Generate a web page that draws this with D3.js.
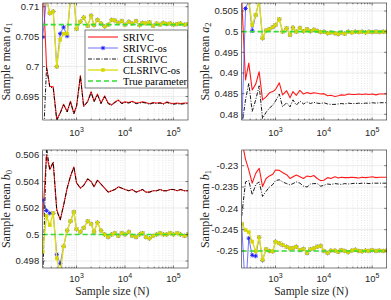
<!DOCTYPE html>
<html><head><meta charset="utf-8">
<script src="https://cdn.jsdelivr.net/npm/d3@7"></script>
<style>body{margin:0;background:#fff}svg{display:block}</style>
</head><body><svg id="c" width="391" height="300"></svg>
<script>
// ---------------- DATA ----------------
const N = [200,240,280,330,390,460,540,640,750,880,1000,1200,1400,1700,2000,2300,2700,3200,3800,4500,5300,6200,7300,8600,10000,12000,14000,17000,20000,23000,27000,32000,38000,45000,53000,62000,73000,86000,100000,120000,140000,170000,200000];

const seriesNames = ["SRIVC","SRIVC-os","CLSRIVC","CLSRIVC-os","True parameter"];

// a1
const a1_SRIVC = [0.7150,0.7000,0.6967,0.6966,0.6912,0.6923,0.6937,0.6925,0.6942,0.6922,0.6934,0.6985,0.6934,0.6942,0.6958,0.6942,0.6954,0.6939,0.6951,0.6939,0.6936,0.6941,0.6944,0.6939,0.6941,0.6940,0.6942,0.6939,0.6940,0.6941,0.6940,0.6938,0.6940,0.6939,0.6940,0.6938,0.6941,0.6939,0.6938,0.6939,0.6938,0.6939,0.6939];
const a1_CLSRIVC = [0.6850,0.6998,0.6966,0.6964,0.6910,0.6922,0.6936,0.6924,0.6941,0.6921,0.6933,0.6984,0.6933,0.6941,0.6957,0.6941,0.6953,0.6938,0.6950,0.6938,0.6935,0.6940,0.6943,0.6938,0.6940,0.6939,0.6941,0.6938,0.6939,0.6940,0.6939,0.6937,0.6939,0.6938,0.6939,0.6937,0.6940,0.6938,0.6937,0.6938,0.6937,0.6938,0.6938];
const a1_SRIVC_os = [0.7049,0.7115,0.7089,0.7092,0.7000,0.7055,0.7066,0.7051,0.7115,0.7115,0.7063,0.7075,0.7082,0.7068,0.7085,0.7069,0.7078,0.7072,0.7067,0.7070,0.7078,0.7077,0.7073,0.7076,0.7070,0.7075,0.7072,0.7076,0.7069,0.7073,0.7072,0.7074,0.7068,0.7072,0.7070,0.7073,0.7071,0.7072,0.7070,0.7071,0.7072,0.7070,0.7071];
const a1_CLSRIVC_os = [0.7115,0.7112,0.7089,0.7092,0.7000,0.7045,0.7055,0.7055,0.7115,0.7115,0.7063,0.7075,0.7082,0.7068,0.7085,0.7069,0.7078,0.7072,0.7067,0.7070,0.7078,0.7077,0.7073,0.7076,0.7070,0.7075,0.7072,0.7076,0.7069,0.7073,0.7072,0.7074,0.7068,0.7072,0.7070,0.7073,0.7071,0.7072,0.7070,0.7071,0.7072,0.7070,0.7071];
const a1_true = 0.707;

// a2
const a2_SRIVC = [0.5080,0.4883,0.4924,0.4859,0.4873,0.4903,0.4835,0.4842,0.4852,0.4855,0.4860,0.4876,0.4847,0.4857,0.4840,0.4855,0.4846,0.4858,0.4849,0.4853,0.4850,0.4852,0.4851,0.4849,0.4850,0.4845,0.4846,0.4843,0.4845,0.4847,0.4846,0.4849,0.4848,0.4848,0.4849,0.4848,0.4849,0.4848,0.4849,0.4847,0.4849,0.4849,0.4849];
const a2_CLSRIVC = [0.4770,0.4835,0.4875,0.4807,0.4835,0.4869,0.4790,0.4805,0.4815,0.4822,0.4832,0.4849,0.4818,0.4828,0.4818,0.4835,0.4822,0.4832,0.4825,0.4830,0.4826,0.4829,0.4827,0.4826,0.4828,0.4825,0.4824,0.4824,0.4825,0.4826,0.4825,0.4827,0.4826,0.4826,0.4827,0.4826,0.4827,0.4827,0.4828,0.4827,0.4828,0.4828,0.4828];
const a2_SRIVC_os = [0.4760,0.5056,0.5075,0.5002,0.5040,0.5075,0.4984,0.5003,0.5006,0.5011,0.5016,0.5030,0.5000,0.5008,0.4992,0.5010,0.5000,0.5009,0.5001,0.5006,0.5001,0.5005,0.5002,0.4999,0.5000,0.4996,0.4998,0.4996,0.4994,0.4998,0.4995,0.5000,0.4998,0.5000,0.4999,0.5000,0.4998,0.5000,0.4999,0.5000,0.4999,0.5000,0.5000];
const a2_CLSRIVC_os = [0.5080,0.5078,0.5075,0.5016,0.5040,0.5075,0.4984,0.5003,0.5006,0.5011,0.5016,0.5030,0.5000,0.5008,0.4992,0.5010,0.5000,0.5009,0.5001,0.5006,0.5001,0.5005,0.5002,0.4999,0.5000,0.4996,0.4998,0.4996,0.4994,0.4998,0.4995,0.5000,0.4998,0.5000,0.4999,0.5000,0.4998,0.5000,0.4999,0.5000,0.4999,0.5000,0.5000];
const a2_true = 0.5;

// b0
const b0_SRIVC = [0.5013,0.5060,0.5049,0.5054,0.5019,0.5011,0.5022,0.5035,0.5044,0.5051,0.5039,0.5035,0.5037,0.5042,0.5040,0.5036,0.5041,0.5038,0.5035,0.5032,0.5033,0.5034,0.5036,0.5035,0.5034,0.5033,0.5034,0.5032,0.5033,0.5034,0.5032,0.5032,0.5033,0.5033,0.5034,0.5033,0.5033,0.5034,0.5034,0.5033,0.5034,0.5033,0.5033];
const b0_CLSRIVC = [0.4965,0.5066,0.5049,0.5055,0.5018,0.5011,0.5022,0.5035,0.5044,0.5051,0.5039,0.5035,0.5037,0.5042,0.5040,0.5036,0.5041,0.5038,0.5035,0.5032,0.5033,0.5034,0.5036,0.5035,0.5034,0.5033,0.5034,0.5032,0.5033,0.5034,0.5032,0.5032,0.5033,0.5033,0.5034,0.5033,0.5033,0.5034,0.5034,0.5033,0.5034,0.5033,0.5033];
const b0_SRIVC_os = [0.5026,0.5018,0.5016,0.5016,0.4985,0.4978,0.4991,0.5003,0.5010,0.5017,0.5004,0.5002,0.5005,0.5010,0.5008,0.5002,0.5009,0.5003,0.5000,0.4998,0.5000,0.5001,0.4999,0.5001,0.5000,0.5002,0.4999,0.4998,0.5000,0.5001,0.4998,0.4997,0.4999,0.5000,0.5001,0.5000,0.5000,0.5001,0.5000,0.5001,0.5000,0.4999,0.5000];
const b0_CLSRIVC_os = [0.4987,0.5014,0.5007,0.5016,0.4982,0.4970,0.4991,0.5003,0.5010,0.5017,0.5004,0.5002,0.5005,0.5010,0.5008,0.5002,0.5009,0.5003,0.5000,0.4998,0.5000,0.5001,0.4999,0.5001,0.5000,0.5002,0.4999,0.4998,0.5000,0.5001,0.4998,0.4997,0.4999,0.5000,0.5001,0.5000,0.5000,0.5001,0.5000,0.5001,0.5000,0.4999,0.5000];
const b0_true = 0.5;

// b1
const b1_SRIVC = [-0.2240,-0.2285,-0.2310,-0.2341,-0.2318,-0.2306,-0.2349,-0.2330,-0.2324,-0.2320,-0.2310,-0.2311,-0.2316,-0.2321,-0.2330,-0.2326,-0.2322,-0.2326,-0.2330,-0.2324,-0.2326,-0.2323,-0.2330,-0.2335,-0.2334,-0.2328,-0.2330,-0.2326,-0.2329,-0.2327,-0.2328,-0.2328,-0.2327,-0.2328,-0.2329,-0.2327,-0.2328,-0.2327,-0.2326,-0.2328,-0.2327,-0.2327,-0.2327];
const b1_CLSRIVC = [-0.2418,-0.2338,-0.2335,-0.2368,-0.2344,-0.2338,-0.2372,-0.2360,-0.2350,-0.2344,-0.2335,-0.2333,-0.2338,-0.2342,-0.2345,-0.2342,-0.2338,-0.2341,-0.2348,-0.2350,-0.2343,-0.2342,-0.2342,-0.2348,-0.2346,-0.2343,-0.2344,-0.2342,-0.2343,-0.2344,-0.2342,-0.2343,-0.2342,-0.2341,-0.2342,-0.2341,-0.2341,-0.2342,-0.2341,-0.2341,-0.2341,-0.2341,-0.2341];
const b1_SRIVC_os = [-0.2437,-0.2600,-0.2470,-0.2510,-0.2512,-0.2468,-0.2522,-0.2496,-0.2500,-0.2501,-0.2478,-0.2482,-0.2486,-0.2490,-0.2494,-0.2493,-0.2490,-0.2498,-0.2495,-0.2505,-0.2496,-0.2494,-0.2490,-0.2488,-0.2500,-0.2505,-0.2499,-0.2499,-0.2502,-0.2498,-0.2500,-0.2503,-0.2499,-0.2497,-0.2500,-0.2501,-0.2499,-0.2500,-0.2498,-0.2500,-0.2499,-0.2500,-0.2499];
const b1_CLSRIVC_os = [-0.2437,-0.2451,-0.2456,-0.2478,-0.2501,-0.2468,-0.2521,-0.2496,-0.2500,-0.2501,-0.2478,-0.2482,-0.2486,-0.2490,-0.2494,-0.2493,-0.2490,-0.2498,-0.2495,-0.2505,-0.2496,-0.2494,-0.2490,-0.2488,-0.2500,-0.2505,-0.2499,-0.2499,-0.2502,-0.2498,-0.2500,-0.2503,-0.2499,-0.2497,-0.2500,-0.2501,-0.2499,-0.2500,-0.2498,-0.2500,-0.2499,-0.2500,-0.2499];
const b1_true = -0.25;

const xTickValues = [1e3,1e4,1e5];
const xTickExp = ["3","4","5"];
const a1_yTicks = [0.695,0.7,0.705,0.71];
const a1_yLabels = ["0.695","0.7","0.705","0.71"];
const a2_yTicks = [0.48,0.485,0.49,0.495,0.5,0.505];
const a2_yLabels = ["0.48","0.485","0.49","0.495","0.5","0.505"];
const b0_yTicks = [0.498,0.5,0.502,0.504,0.506];
const b0_yLabels = ["0.498","0.5","0.502","0.504","0.506"];
const b1_yTicks = [-0.25,-0.245,-0.24,-0.235,-0.23];
const b1_yLabels = ["-0.25","-0.245","-0.24","-0.235","-0.23"];

// ---------------- LAYOUT ----------------
const svg = d3.select("#c");
const axisCol = "#262626";
const sans = "'Liberation Sans', Arial, sans-serif";
const serif = "'Liberation Serif', 'Times New Roman', serif";

const panels = [
  {id:"a1", box:[42.7,188,3,120], yd:[0.69107,0.71062], sym:"a", sub:"1",
   s:[a1_SRIVC,a1_SRIVC_os,a1_CLSRIVC,a1_CLSRIVC_os], t:a1_true, yt:a1_yTicks, yl:a1_yLabels, xlabel:false, legend:true},
  {id:"a2", box:[241.7,386.7,3,120], yd:[0.47862,0.50694], sym:"a", sub:"2",
   s:[a2_SRIVC,a2_SRIVC_os,a2_CLSRIVC,a2_CLSRIVC_os], t:a2_true, yt:a2_yTicks, yl:a2_yLabels, xlabel:false},
  {id:"b0", box:[42.7,188,150,268], yd:[0.49747,0.50638], sym:"b", sub:"0",
   s:[b0_SRIVC,b0_SRIVC_os,b0_CLSRIVC,b0_CLSRIVC_os], t:b0_true, yt:b0_yTicks, yl:b0_yLabels, xlabel:true},
  {id:"b1", box:[241.7,386.7,150,268], yd:[-0.25399,-0.22632], sym:"b", sub:"1",
   s:[b1_SRIVC,b1_SRIVC_os,b1_CLSRIVC,b1_CLSRIVC_os], t:b1_true, yt:b1_yTicks, yl:b1_yLabels, xlabel:true},
];

const styles = [
  {color:"#ff1a1a", w:1.1, dash:null, marker:null},
  {color:"#4d4dff", w:0.8, dash:null, marker:"star", mcolor:"#1a1aff"},
  {color:"#000000", w:0.9, dash:"4,1.5,1,1.5", marker:null},
  {color:"#dede1a", w:1.4, dash:null, marker:"square", mcolor:"#d6d600"},
  {color:"#33dd33", w:1.6, dash:"5,3", marker:null}
];

function drawMarker(g, type, x, y, col){
  if(type==="star"){
    const r=2.2;
    g.append("path").attr("d",`M${x-r},${y}L${x+r},${y}M${x},${y-r}L${x},${y+r}M${x-r*0.7},${y-r*0.7}L${x+r*0.7},${y+r*0.7}M${x-r*0.7},${y+r*0.7}L${x+r*0.7},${y-r*0.7}`)
      .attr("stroke",col).attr("stroke-width",0.9).attr("fill","none");
  } else if(type==="square"){
    g.append("rect").attr("x",x-1.6).attr("y",y-1.6).attr("width",3.2).attr("height",3.2)
      .attr("fill",col).attr("stroke",col).attr("stroke-width",0.4);
  }
}

panels.forEach((p,pi)=>{
  const [x0,x1,y0,y1]=p.box;
  const x = d3.scaleLog().domain([200,200000]).range([x0,x1]);
  const y = d3.scaleLinear().domain(p.yd).range([y1,y0]);
  const g = svg.append("g");
  g.append("rect").attr("x",x0).attr("y",y0).attr("width",x1-x0).attr("height",y1-y0).attr("fill","#fff");

  // minor x grid (dotted)
  const minors=[];
  for(let e=2;e<=5;e++) for(let m=2;m<10;m++){const v=m*Math.pow(10,e); if(v>200&&v<200000) minors.push(v);}
  g.append("g").selectAll("line").data(minors).join("line")
    .attr("x1",d=>x(d)).attr("x2",d=>x(d)).attr("y1",y0).attr("y2",y1)
    .attr("stroke","#d0d0d0").attr("stroke-width",0.5).attr("stroke-dasharray","1,1.5");
  // major grid
  g.append("g").selectAll("line").data(xTickValues).join("line")
    .attr("x1",d=>x(d)).attr("x2",d=>x(d)).attr("y1",y0).attr("y2",y1)
    .attr("stroke","#dfdfdf").attr("stroke-width",0.6);
  g.append("g").selectAll("line").data(p.yt).join("line")
    .attr("x1",x0).attr("x2",x1).attr("y1",d=>y(d)).attr("y2",d=>y(d))
    .attr("stroke","#dfdfdf").attr("stroke-width",0.6);

  // clip
  const cid="clip"+pi;
  svg.append("clipPath").attr("id",cid).append("rect").attr("x",x0).attr("y",y0).attr("width",x1-x0).attr("height",y1-y0);
  const pg = g.append("g").attr("clip-path",`url(#${cid})`);

  const line = d3.line().x((d,i)=>x(N[i])).y(d=>y(d));
  p.s.forEach((arr,si)=>{
    const st=styles[si];
    pg.append("path").attr("d",line(arr)).attr("fill","none").attr("stroke",st.color)
      .attr("stroke-width",st.w).attr("stroke-dasharray",st.dash).attr("stroke-linejoin","round");
    if(st.marker){
      const mg=pg.append("g");
      arr.forEach((v,i)=>drawMarker(mg,st.marker,x(N[i]),y(v),st.mcolor));
    }
  });
  // true parameter
  pg.append("line").attr("x1",x0).attr("x2",x1).attr("y1",y(p.t)).attr("y2",y(p.t))
    .attr("stroke",styles[4].color).attr("stroke-width",styles[4].w).attr("stroke-dasharray",styles[4].dash);

  // box
  g.append("rect").attr("x",x0).attr("y",y0).attr("width",x1-x0).attr("height",y1-y0)
    .attr("fill","none").attr("stroke",axisCol).attr("stroke-width",0.6);

  // ticks (inward)
  const tk=g.append("g").attr("stroke",axisCol).attr("stroke-width",0.6);
  xTickValues.forEach(v=>{
    tk.append("line").attr("x1",x(v)).attr("x2",x(v)).attr("y1",y1).attr("y2",y1-2.5);
    tk.append("line").attr("x1",x(v)).attr("x2",x(v)).attr("y1",y0).attr("y2",y0+2.5);
  });
  minors.forEach(v=>{
    tk.append("line").attr("x1",x(v)).attr("x2",x(v)).attr("y1",y1).attr("y2",y1-1.3);
    tk.append("line").attr("x1",x(v)).attr("x2",x(v)).attr("y1",y0).attr("y2",y0+1.3);
  });
  p.yt.forEach(v=>{
    tk.append("line").attr("x1",x0).attr("x2",x0+2.5).attr("y1",y(v)).attr("y2",y(v));
    tk.append("line").attr("x1",x1).attr("x2",x1-2.5).attr("y1",y(v)).attr("y2",y(v));
  });

  // y tick labels
  p.yt.forEach((v,i)=>{
    g.append("text").attr("x",x0-3.5).attr("y",y(v)).attr("dy","0.35em").attr("text-anchor","end")
      .attr("font-family",sans).attr("font-size",9.5).attr("fill",axisCol).text(p.yl[i]);
  });
  // x tick labels
  const tby = p.xlabel ? y1+14 : y1+16;
  xTickValues.forEach((v,i)=>{
    const t=g.append("text").attr("x",x(v)).attr("y",tby).attr("text-anchor","middle")
      .attr("font-family",sans).attr("font-size",9.5).attr("fill",axisCol);
    t.append("tspan").text("10");
    t.append("tspan").attr("dy",-4).attr("font-size",7).text(xTickExp[i]);
  });

  // y label
  const lx = x0-33, ly=(y0+y1)/2;
  const yl=g.append("text").attr("transform",`translate(${lx},${ly}) rotate(-90)`).attr("text-anchor","middle")
    .attr("font-family",serif).attr("font-size",12).attr("fill",axisCol);
  yl.append("tspan").text("Sample mean ");
  yl.append("tspan").attr("font-style","italic").text(p.sym);
  yl.append("tspan").attr("dy",2.5).attr("font-size",8.5).text(p.sub);

  if(p.xlabel){
    g.append("text").attr("x",(x0+x1)/2-3).attr("y",y1+27).attr("text-anchor","middle")
      .attr("font-family",serif).attr("font-size",11.5).attr("fill",axisCol).text("Sample size (N)");
  }

  if(p.legend){
    const lg=g.append("g");
    const bx=85, by=30, bw=102.5, bh=58;
    lg.append("rect").attr("x",bx).attr("y",by).attr("width",bw).attr("height",bh)
      .attr("fill","#fff").attr("stroke",axisCol).attr("stroke-width",0.6);
    seriesNames.forEach((nm,i)=>{
      const yy=by+7+i*11;
      const st=styles[i];
      lg.append("line").attr("x1",bx+3).attr("x2",bx+33).attr("y1",yy).attr("y2",yy)
        .attr("stroke",st.color).attr("stroke-width",st.w).attr("stroke-dasharray",st.dash);
      if(st.marker) drawMarker(lg,st.marker,bx+18,yy,st.mcolor);
      lg.append("text").attr("x",bx+38).attr("y",yy).attr("dy","0.35em")
        .attr("font-family",serif).attr("font-size",10.5).attr("fill","#000").text(nm);
    });
  }
});
</script></body></html>
